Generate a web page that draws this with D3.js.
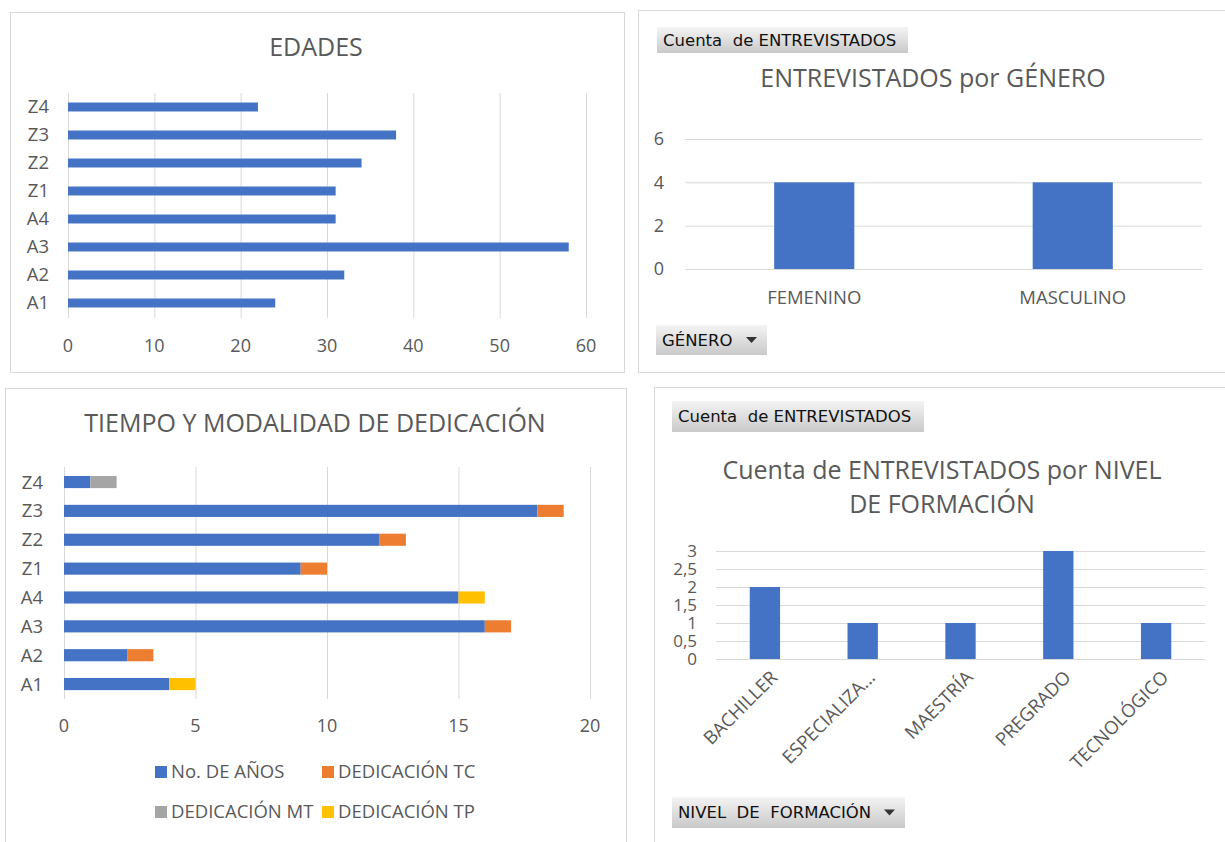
<!DOCTYPE html>
<html>
<head>
<meta charset="utf-8">
<script src="https://cdn.jsdelivr.net/npm/d3@7"></script>
<style>
  body { margin: 0; background: #fff; }
  svg { display: block; font-family: "Open Sans", sans-serif; }
  .lbl { fill: #595959; }
  .grid line { stroke: #d9d9d9; stroke-width: 1; }
</style>
</head>
<body>
<svg id="chart" width="1225" height="842"></svg>
<script>
// ---- data ----
const personas = ['Z4', 'Z3', 'Z2', 'Z1', 'A4', 'A3', 'A2', 'A1'];
const edades = [22, 38, 34, 31, 31, 58, 32, 24];

const generos = ['FEMENINO', 'MASCULINO'];
const generoCuenta = [4, 4];

const seriesDedicacion = ['No. DE AÑOS', 'DEDICACIÓN TC', 'DEDICACIÓN MT', 'DEDICACIÓN TP'];
const anios = [1, 18, 12, 9, 15, 16, 2.4, 4];
const dedTC = [0, 1, 1, 1, 0, 1, 1, 0];
const dedMT = [1, 0, 0, 0, 0, 0, 0, 0];
const dedTP = [0, 0, 0, 0, 1, 0, 0, 1];

const niveles = ['BACHILLER', 'ESPECIALIZA...', 'MAESTRÍA', 'PREGRADO', 'TECNOLÓGICO'];
const nivelCuenta = [2, 1, 1, 3, 1];

const colores = ['#4472c4', '#ed7d31', '#a5a5a5', '#ffc000'];

const svg = d3.select('#chart');

// gradient for the pivot field buttons
const grad = svg.append('defs').append('linearGradient')
    .attr('id', 'btn').attr('x1', 0).attr('y1', 0).attr('x2', 0).attr('y2', 1);
grad.append('stop').attr('offset', '0%').attr('stop-color', '#f4f4f4');
grad.append('stop').attr('offset', '100%').attr('stop-color', '#c9c9c9');

function panel(x, y, w, h) {
    svg.append('rect').attr('x', x + 0.5).attr('y', y + 0.5)
        .attr('width', w).attr('height', h)
        .attr('fill', '#fff').attr('stroke', '#d9d9d9');
}

function boton(x, y, w, h, texto, flecha) {
    const g = svg.append('g').attr('transform', `translate(${x},${y})`);
    g.append('rect').attr('width', w).attr('height', h).attr('fill', 'url(#btn)');
    g.append('text').attr('x', 6).attr('y', h / 2).attr('dy', '0.35em')
        .style('font-family', '"DejaVu Sans", sans-serif').style('font-size', '16.5px')
        .attr('fill', '#111').attr('xml:space', 'preserve').text(texto);
    if (flecha) {
        g.append('path').attr('d', `M${w - 21},${h / 2 - 3}h11l-5.5,6z`).attr('fill', '#333');
    }
}

function titulo(x, y, t) {
    svg.append('text').attr('class', 'lbl').attr('x', x).attr('y', y)
        .attr('text-anchor', 'middle').style('font-size', '25px').text(t);
}

// ---- panels ----
panel(10, 12, 614, 360);
panel(638, 10, 600, 362);
panel(5, 388, 621, 470);
panel(654, 387, 600, 470);

// ===== EDADES =====
{
    const x = d3.scaleLinear().domain([0, 60]).range([68, 586]);
    const y = d3.scaleBand().domain(personas).range([93, 317]).paddingInner(0.68).paddingOuter(0.34);

    titulo(316, 56, 'EDADES');

    svg.append('g').attr('class', 'grid').selectAll('line').data(x.ticks(6)).join('line')
        .attr('x1', d => x(d) + 0.5).attr('x2', d => x(d) + 0.5).attr('y1', 93).attr('y2', 318);

    svg.append('g').selectAll('rect').data(personas).join('rect')
        .attr('x', x(0)).attr('y', d => y(d))
        .attr('width', (d, i) => x(edades[i]) - x(0)).attr('height', y.bandwidth())
        .attr('fill', colores[0]);

    svg.append('g').selectAll('text').data(x.ticks(6)).join('text').attr('class', 'lbl')
        .attr('x', d => x(d)).attr('y', 352).attr('text-anchor', 'middle')
        .style('font-size', '18px').text(d => d);

    svg.append('g').selectAll('text').data(personas).join('text').attr('class', 'lbl')
        .attr('x', 49).attr('y', d => y(d) + y.bandwidth() / 2).attr('dy', '0.35em')
        .attr('text-anchor', 'end').style('font-size', '18.5px').text(d => d);
}

// ===== ENTREVISTADOS por GÉNERO =====
{
    const x = d3.scaleBand().domain(generos).range([685, 1202]).paddingInner(0.69).paddingOuter(0.345);
    const y = d3.scaleLinear().domain([0, 6]).range([269, 139]);

    boton(657, 27, 251, 26, 'Cuenta  de ENTREVISTADOS', false);
    titulo(933, 87, 'ENTREVISTADOS por GÉNERO');

    svg.append('g').attr('class', 'grid').selectAll('line').data(y.ticks(3)).join('line')
        .attr('x1', 685).attr('x2', 1202).attr('y1', d => y(d) + 0.5).attr('y2', d => y(d) + 0.5);

    svg.append('g').selectAll('rect').data(generos).join('rect')
        .attr('x', d => x(d)).attr('y', (d, i) => y(generoCuenta[i]))
        .attr('width', x.bandwidth()).attr('height', (d, i) => y(0) - y(generoCuenta[i]))
        .attr('fill', colores[0]);

    svg.append('g').selectAll('text').data(y.ticks(3)).join('text').attr('class', 'lbl')
        .attr('x', 664).attr('y', d => y(d)).attr('dy', '0.35em').attr('text-anchor', 'end')
        .style('font-size', '18px').text(d => d);

    svg.append('g').selectAll('text').data(generos).join('text').attr('class', 'lbl')
        .attr('x', d => x(d) + x.bandwidth() / 2).attr('y', 304).attr('text-anchor', 'middle')
        .style('font-size', '18.5px').text(d => d);

    boton(656, 325, 111, 30, 'GÉNERO', true);
}

// ===== TIEMPO Y MODALIDAD DE DEDICACIÓN =====
{
    const x = d3.scaleLinear().domain([0, 20]).range([64, 590]);
    const y = d3.scaleBand().domain(personas).range([467.6, 698.5]).paddingInner(0.58).paddingOuter(0.29);

    titulo(315, 432, 'TIEMPO Y MODALIDAD DE DEDICACIÓN');

    svg.append('g').attr('class', 'grid').selectAll('line').data(x.ticks(4)).join('line')
        .attr('x1', d => x(d) + 0.5).attr('x2', d => x(d) + 0.5).attr('y1', 467).attr('y2', 699);

    const filas = personas.map((p, i) => ({
        p, s0: anios[i], s1: dedTC[i], s2: dedMT[i], s3: dedTP[i]
    }));
    const stack = d3.stack().keys(['s0', 's1', 's2', 's3'])(filas);

    svg.append('g').selectAll('g').data(stack).join('g')
        .attr('fill', (d, i) => colores[i])
        .selectAll('rect').data(d => d).join('rect')
        .attr('x', d => x(d[0])).attr('y', d => y(d.data.p))
        .attr('width', d => x(d[1]) - x(d[0])).attr('height', y.bandwidth());

    svg.append('g').selectAll('text').data(x.ticks(4)).join('text').attr('class', 'lbl')
        .attr('x', d => x(d)).attr('y', 732).attr('text-anchor', 'middle')
        .style('font-size', '18px').text(d => d);

    svg.append('g').selectAll('text').data(personas).join('text').attr('class', 'lbl')
        .attr('x', 43).attr('y', d => y(d) + y.bandwidth() / 2).attr('dy', '0.35em')
        .attr('text-anchor', 'end').style('font-size', '18.5px').text(d => d);

    // legend, two per row
    const ley = svg.append('g').selectAll('g').data(seriesDedicacion).join('g')
        .attr('transform', (d, i) => `translate(${i % 2 ? 322 : 155},${i < 2 ? 772 : 812})`);
    ley.append('rect').attr('y', -6).attr('width', 12).attr('height', 12)
        .attr('fill', (d, i) => colores[i]);
    ley.append('text').attr('class', 'lbl').attr('x', 16).attr('dy', '0.35em')
        .style('font-size', '18.5px').text(d => d);
}

// ===== NIVEL DE FORMACIÓN =====
{
    const x = d3.scaleBand().domain(niveles).range([716, 1205]).paddingInner(0.69).paddingOuter(0.345);
    const y = d3.scaleLinear().domain([0, 3]).range([659, 551]);
    const ticks = d3.range(0, 3.01, 0.5);
    const fmt = d => String(d).replace('.', ',');

    boton(672, 401, 252, 31, 'Cuenta  de ENTREVISTADOS', false);
    titulo(942, 479, 'Cuenta de ENTREVISTADOS por NIVEL');
    titulo(942, 513, 'DE FORMACIÓN');

    svg.append('g').attr('class', 'grid').selectAll('line').data(ticks).join('line')
        .attr('x1', 716).attr('x2', 1205).attr('y1', d => y(d) + 0.5).attr('y2', d => y(d) + 0.5);

    svg.append('g').selectAll('rect').data(niveles).join('rect')
        .attr('x', d => x(d)).attr('y', (d, i) => y(nivelCuenta[i]))
        .attr('width', x.bandwidth()).attr('height', (d, i) => y(0) - y(nivelCuenta[i]))
        .attr('fill', colores[0]);

    svg.append('g').selectAll('text').data(ticks).join('text').attr('class', 'lbl')
        .attr('x', 697).attr('y', d => y(d)).attr('dy', '0.35em').attr('text-anchor', 'end')
        .style('font-size', '17px').text(fmt);

    svg.append('g').selectAll('text').data(niveles).join('text').attr('class', 'lbl')
        .attr('transform', d => `translate(${x(d) + x.bandwidth() / 2 + 9},${674}) rotate(-45)`)
        .attr('text-anchor', 'end').attr('dy', '0.35em')
        .style('font-size', '18.5px').text(d => d);

    boton(672, 797, 233, 31, 'NIVEL  DE  FORMACIÓN', true);
}
</script>
</body>
</html>
